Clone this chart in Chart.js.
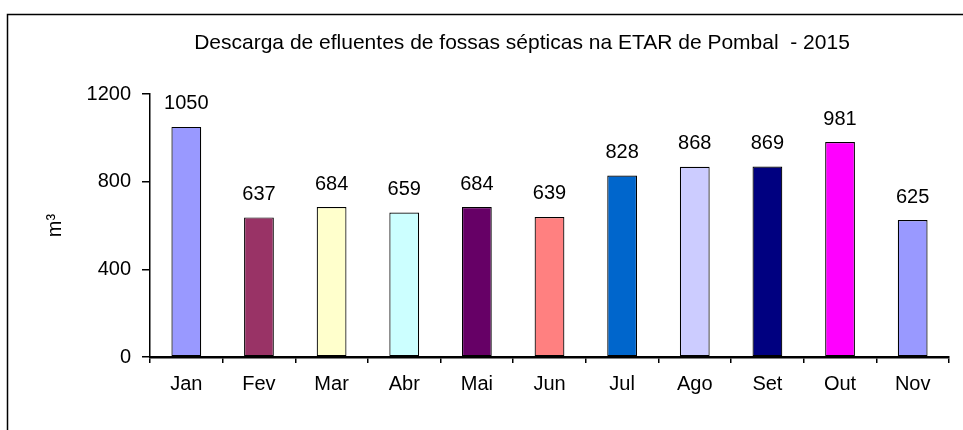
<!DOCTYPE html>
<html>
<head>
<meta charset="utf-8">
<script src="https://cdn.jsdelivr.net/npm/chart.js@4/dist/chart.umd.min.js"></script>
<style>
html,body{margin:0;padding:0;background:#fff;}
#wrap{width:963px;height:430px;position:relative;}
</style>
</head>
<body>
<div id="wrap"><canvas id="c" width="963" height="430"></canvas></div>
<script>
const categories = ['Jan','Fev','Mar','Abr','Mai','Jun','Jul','Ago','Set','Out','Nov'];
const values = [1050, 637, 684, 659, 684, 639, 828, 868, 869, 981, 625];
const barColors = ['#9999FF','#993366','#FFFFCC','#CCFFFF','#660066','#FF8080','#0066CC','#CCCCFF','#000080','#FF00FF','#9999FF'];
const yTicks = [0, 400, 800, 1200];
const titleText = 'Descarga de efluentes de fossas sépticas na ETAR de Pombal  - 2015';
const yTitle = 'm³';

const FONT = '"Liberation Sans", Arial, sans-serif';

const framePlugin = {
  id: 'frame',
  beforeDraw(chart) {
    const ctx = chart.ctx;
    ctx.save();
    ctx.fillStyle = '#fff';
    ctx.fillRect(0, 0, chart.width, chart.height);
    ctx.strokeStyle = '#000';
    ctx.lineWidth = 1.5;
    ctx.strokeRect(7.5, 14.5, 1000, 500);
    ctx.font = '21px ' + FONT;
    ctx.fillStyle = '#000';
    ctx.textAlign = 'center';
    ctx.textBaseline = 'middle';
    ctx.fillText(titleText, 522, 43);
    ctx.restore();
  }
};

const labelPlugin = {
  id: 'barLabels',
  afterDatasetsDraw(chart) {
    const ctx = chart.ctx;
    const meta = chart.getDatasetMeta(0);
    ctx.save();
    ctx.font = '20px ' + FONT;
    ctx.fillStyle = '#000';
    ctx.textAlign = 'center';
    ctx.textBaseline = 'middle';
    meta.data.forEach((el, i) => {
      ctx.fillText(String(values[i]), el.x, el.y - 23);
    });
    ctx.restore();
  }
};

new Chart(document.getElementById('c'), {
  type: 'bar',
  data: {
    labels: categories,
    datasets: [{
      data: values,
      backgroundColor: barColors,
      borderColor: '#000',
      borderWidth: 1.2,
      borderSkipped: false,
      categoryPercentage: 1,
      barPercentage: 0.41
    }]
  },
  options: {
    responsive: false,
    animation: false,
    layout: { padding: { left: 0, right: 14, top: 94, bottom: 0 } },
    plugins: {
      legend: { display: false },
      tooltip: { enabled: false },
      title: { display: false }
    },
    scales: {
      x: {
        offset: true,
        grid: { display: true, drawOnChartArea: false, drawTicks: true, tickLength: 6, color: '#000', lineWidth: 1.5, offset: true },
        border: { display: true, color: '#000', width: 2.5 },
        ticks: { color: '#000', font: { family: FONT, size: 20 }, padding: 9, maxRotation: 0, autoSkip: false },
        afterFit(scale) { scale.height = 430 - 357; }
      },
      y: {
        min: 0,
        max: 1200,
        afterBuildTicks(scale) { scale.ticks = yTicks.map(v => ({ value: v })); },
        grid: { display: true, drawOnChartArea: false, drawTicks: true, tickLength: 8, color: '#000', lineWidth: 1.5 },
        border: { display: true, color: '#000', width: 1.5 },
        ticks: { color: '#000', font: { family: FONT, size: 20 }, padding: 11, callback: v => String(v) },
        title: {
          display: true,
          text: yTitle,
          color: '#000',
          font: { family: FONT, size: 20 },
          padding: { top: 43, bottom: 0 }
        },
        afterFit(scale) { scale.width = 150; }
      }
    }
  },
  plugins: [framePlugin, labelPlugin]
});
</script>
</body>
</html>
